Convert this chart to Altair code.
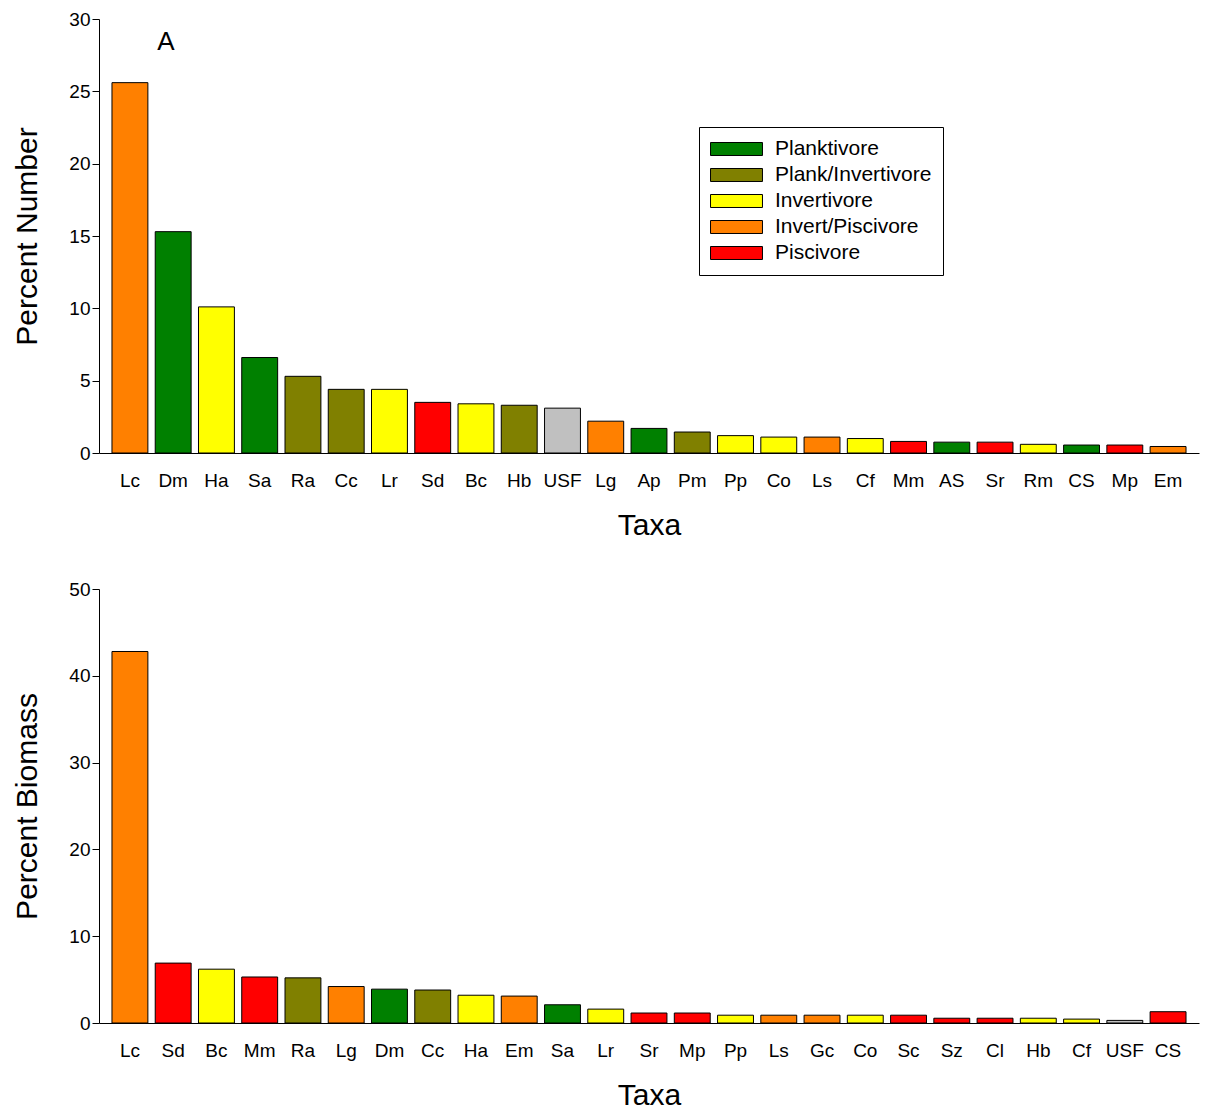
import altair as alt
import pandas as pd

groups = ["Planktivore", "Plank/Invertivore", "Invertivore", "Invert/Piscivore", "Piscivore", "Unknown"]
colors = ["#008000", "#808000", "#FFFF00", "#FF8000", "#FF0000", "#C0C0C0"]

num_taxa = ["Lc", "Dm", "Ha", "Sa", "Ra", "Cc", "Lr", "Sd", "Bc", "Hb", "USF", "Lg", "Ap",
            "Pm", "Pp", "Co", "Ls", "Cf", "Mm", "AS", "Sr", "Rm", "CS", "Mp", "Em"]
num_vals = [25.6, 15.3, 10.1, 6.6, 5.3, 4.4, 4.4, 3.5, 3.4, 3.3, 3.1, 2.2, 1.7,
            1.45, 1.2, 1.1, 1.1, 1.0, 0.8, 0.75, 0.75, 0.6, 0.55, 0.55, 0.45]
num_grp = ["Invert/Piscivore", "Planktivore", "Invertivore", "Planktivore", "Plank/Invertivore",
           "Plank/Invertivore", "Invertivore", "Piscivore", "Invertivore", "Plank/Invertivore",
           "Unknown", "Invert/Piscivore", "Planktivore", "Plank/Invertivore", "Invertivore",
           "Invertivore", "Invert/Piscivore", "Invertivore", "Piscivore", "Planktivore",
           "Piscivore", "Invertivore", "Planktivore", "Piscivore", "Invert/Piscivore"]

bio_taxa = ["Lc", "Sd", "Bc", "Mm", "Ra", "Lg", "Dm", "Cc", "Ha", "Em", "Sa", "Lr", "Sr",
            "Mp", "Pp", "Ls", "Gc", "Co", "Sc", "Sz", "Cl", "Hb", "Cf", "USF", "CS"]
bio_vals = [42.8, 6.9, 6.2, 5.3, 5.2, 4.2, 3.9, 3.8, 3.2, 3.1, 2.1, 1.6, 1.15,
            1.15, 0.9, 0.9, 0.9, 0.9, 0.9, 0.55, 0.55, 0.55, 0.45, 0.3, 1.3]
bio_grp = ["Invert/Piscivore", "Piscivore", "Invertivore", "Piscivore", "Plank/Invertivore",
           "Invert/Piscivore", "Planktivore", "Plank/Invertivore", "Invertivore", "Invert/Piscivore",
           "Planktivore", "Invertivore", "Piscivore", "Piscivore", "Invertivore",
           "Invert/Piscivore", "Invert/Piscivore", "Invertivore", "Piscivore", "Piscivore",
           "Piscivore", "Invertivore", "Invertivore", "Unknown", "Piscivore"]

FONT = "Liberation Sans"
rect = "M-1,-0.25L1,-0.25L1,0.25L-1,0.25Z"


def panel(taxa, vals, grp, ytitle, ymax, ystep, legend):
    df = pd.DataFrame({"taxa": taxa, "val": vals, "grp": grp})
    scale = alt.Scale(domain=groups, range=colors)
    if legend:
        leg = alt.Legend(title=None, orient="none", legendX=600, legendY=108,
                         values=groups[:5], symbolType=rect, symbolSize=2700,
                         symbolStrokeColor="black", symbolStrokeWidth=1,
                         labelFontSize=21, labelFont=FONT, labelColor="black",
                         strokeColor="black", fillColor="white", clipHeight=22,
                         padding=11, rowPadding=4, labelOffset=12)
        color = alt.Color("grp:N", scale=scale, legend=leg)
    else:
        color = alt.Color("grp:N", scale=scale, legend=None)
    bars = alt.Chart(df).mark_bar(stroke="black", strokeWidth=1).encode(
        x=alt.X("taxa:N", sort=taxa, title="Taxa",
                scale=alt.Scale(paddingInner=0.17, paddingOuter=0.3),
                axis=alt.Axis(labelAngle=0, labelFontSize=19, titleFontSize=30,
                              labelFont=FONT, titleFont=FONT, titleFontWeight="normal",
                              ticks=False, domain=True, labelPadding=18, titlePadding=20,
                              labelColor="black", titleColor="black", domainColor="black")),
        y=alt.Y("val:Q", title=ytitle,
                scale=alt.Scale(domain=[0, ymax], nice=False),
                axis=alt.Axis(values=list(range(0, ymax + 1, ystep)), grid=False,
                              labelFontSize=19, titleFontSize=30, labelFont=FONT,
                              titleFont=FONT, titleFontWeight="normal", tickSize=7,
                              labelColor="black", titleColor="black", domainColor="black",
                              tickColor="black", titlePadding=26)),
        color=color,
    )
    return bars.properties(width=1100, height=434)


top = panel(num_taxa, num_vals, num_grp, "Percent Number", 30, 5, True)
label = alt.Chart(pd.DataFrame({"t": ["A"]})).mark_text(
    fontSize=26, font=FONT, color="black").encode(
    text="t:N", x=alt.value(67), y=alt.value(23))
top = top + label
bottom = panel(bio_taxa, bio_vals, bio_grp, "Percent Biomass", 50, 10, False)

chart = alt.vconcat(top, bottom, spacing=40).configure_view(stroke=None).properties(
    padding={"left": 4, "top": 2, "right": 5, "bottom": 5})
chart.save("out.html", embed_options={"renderer": "svg", "actions": False})
